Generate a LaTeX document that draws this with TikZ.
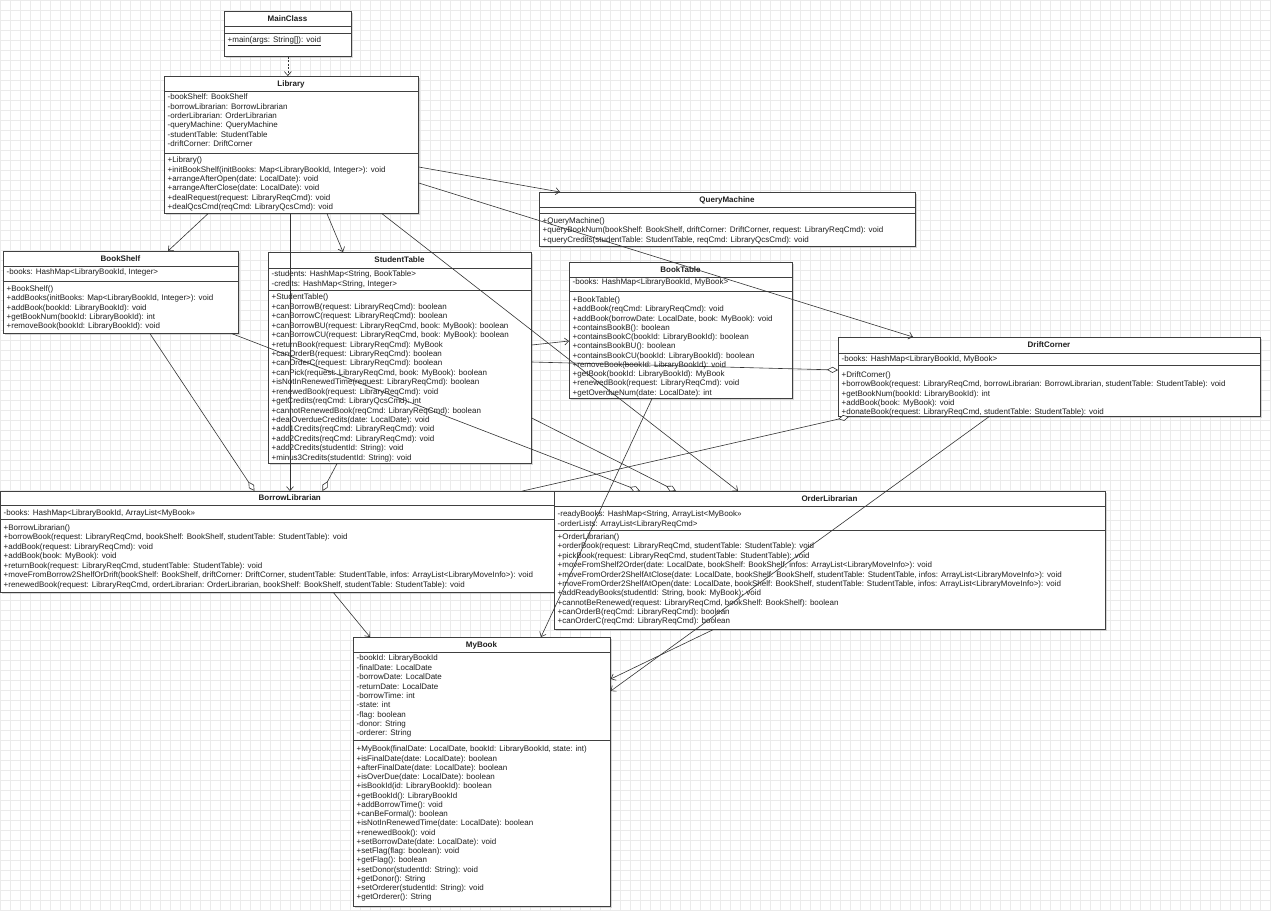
\documentclass[tikz,border=0pt]{standalone}
\usepackage{fontspec}
\setmainfont{Liberation Sans}
\usetikzlibrary{arrows.meta,calc,shadows}
\tikzset{
  cls/.style={draw=black!75, line width=0.7pt, fill=white, inner sep=0pt, anchor=north west,
    drop shadow={shadow xshift=1.5pt, shadow yshift=-1.5pt, fill=black!30, opacity=0.5}},
  sepline/.style={draw=black!75, line width=0.7pt},
  member/.style={anchor=base west, inner sep=0pt, font=\fontsize{8}{9.4}\selectfont, text=black!88},
  clstitle/.style={anchor=base, inner sep=0pt, font=\fontsize{8}{9.4}\selectfont\bfseries, text=black!88},
  gridline/.style={draw=black!8, line width=0.4pt},
  assoc/.style={draw=black!80, line width=0.6pt, -{Straight Barb[length=4pt,width=7pt,line width=0.6pt]}},
  aggr/.style={draw=black!80, line width=0.6pt, -{Diamond[length=11pt,width=6pt,fill=white,line width=0.6pt]}},
  dep/.style={assoc, dash pattern=on 2pt off 1.5pt}
}
\newcommand\umlclass[8]{%
  \node[cls, minimum width={(#4-#2)*1pt}, minimum height={(#5-#3)*1pt}] (#1) at (#2,#3) {};
  \draw[sepline] (#2,#7) -- (#4,#7);
  \draw[sepline] (#2,#8) -- (#4,#8);
  \node[clstitle] (#1-t) at ({(#2+#4)/2},{(#3+#7)/2+2.9}) {#6};
}
\newcommand\members[5][9.4]{%
  \foreach \mtxt [count=\mi] in {#5} {
    \node[member] (#2\mi) at (#3, {#4+(\mi-1)*#1}) {\mtxt};
  }}
\begin{document}
\begin{tikzpicture}[x=1pt,y=-1pt]
\useasboundingbox (0,0) rectangle (1271,910);
\fill[white] (0,0) rectangle (1271,910);
\foreach \gx in {0,10,...,1270} \draw[gridline] (\gx,0) -- (\gx,910);
\foreach \gy in {0,10,...,910} \draw[gridline] (0,\gy) -- (1271,\gy);

% MainClass
\umlclass{main}{224}{11}{351}{56}{MainClass}{26}{33}
\node[member] (mainM1) at (227.5,42.2) {\underline{+main(args: String[]): void}};

% Library
\umlclass{lib}{164}{76}{418}{213}{Library}{91}{153}
\members[9.4]{libA}{167.5}{99.6}{-bookShelf: BookShelf, -borrowLibrarian: BorrowLibrarian, -orderLibrarian: OrderLibrarian, -queryMachine: QueryMachine, -studentTable: StudentTable, -driftCorner: DriftCorner}
\members[9.35]{libM}{167.5}{162.9}{+Library(), {+initBookShelf(initBooks: Map<LibraryBookId, Integer>): void}, +arrangeAfterOpen(date: LocalDate): void, +arrangeAfterClose(date: LocalDate): void, +dealRequest(request: LibraryReqCmd): void, +dealQcsCmd(reqCmd: LibraryQcsCmd): void}

% QueryMachine
\umlclass{qm}{539}{192}{915}{246}{QueryMachine}{207}{213}
\members[9.2]{qmM}{542.5}{223.6}{+QueryMachine(), {+queryBookNum(bookShelf: BookShelf, driftCorner: DriftCorner, request: LibraryReqCmd): void}, {+queryCredits(studentTable: StudentTable, reqCmd: LibraryQcsCmd): void}}

% BookShelf
\umlclass{bs}{3}{251}{238}{333}{BookShelf}{266}{281}
\members{bsA}{6.5}{274.9}{{-books: HashMap<LibraryBookId, Integer>}}
\members[9.25]{bsM}{6.5}{291.6}{+BookShelf(), {+addBooks(initBooks: Map<LibraryBookId, Integer>): void}, +addBook(bookId: LibraryBookId): void, +getBookNum(bookId: LibraryBookId): int, +removeBook(bookId: LibraryBookId): void}

% StudentTable
\umlclass{st}{268}{252}{531}{463}{StudentTable}{268}{290}
\members[10]{stA}{271.5}{276.6}{{-students: HashMap<String, BookTable>}, {-credits: HashMap<String, Integer>}}
\members[9.43]{stM}{271.5}{299.9}{+StudentTable(), +canBorrowB(request: LibraryReqCmd): boolean, +canBorrowC(request: LibraryReqCmd): boolean, {+canBorrowBU(request: LibraryReqCmd, book: MyBook): boolean}, {+canBorrowCU(request: LibraryReqCmd, book: MyBook): boolean}, +returnBook(request: LibraryReqCmd): MyBook, +canOrderB(request: LibraryReqCmd): boolean, +canOrderC(request: LibraryReqCmd): boolean, {+canPick(request: LibraryReqCmd, book: MyBook): boolean}, +isNotInRenewedTime(request: LibraryReqCmd): boolean, +renewedBook(request: LibraryReqCmd): void, +getCredits(reqCmd: LibraryQcsCmd): int, +cannotRenewedBook(reqCmd: LibraryReqCmd): boolean, +dealOverdueCredits(date: LocalDate): void, +add1Credits(reqCmd: LibraryReqCmd): void, +add2Credits(reqCmd: LibraryReqCmd): void, +add2Credits(studentId: String): void, +minus3Credits(studentId: String): void}

% BookTable
\umlclass{bt}{569}{262}{792}{398}{BookTable}{277}{291}
\members{btA}{572.5}{284.9}{{-books: HashMap<LibraryBookId, MyBook>}}
\members[9.25]{btM}{572.5}{302.6}{+BookTable(), +addBook(reqCmd: LibraryReqCmd): void, {+addBook(borrowDate: LocalDate, book: MyBook): void}, +containsBookB(): boolean, +containsBookC(bookId: LibraryBookId): boolean, +containsBookBU(): boolean, +containsBookCU(bookId: LibraryBookId): boolean, +removeBook(bookId: LibraryBookId): void, +getBook(bookId: LibraryBookId): MyBook, +renewedBook(request: LibraryReqCmd): void, +getOverdueNum(date: LocalDate): int}

% DriftCorner
\umlclass{dc}{838}{337}{1260}{416}{DriftCorner}{353}{365}
\members{dcA}{841.5}{361.6}{{-books: HashMap<LibraryBookId, MyBook>}}
\members[9.2]{dcM}{841.5}{377.6}{+DriftCorner(), {+borrowBook(request: LibraryReqCmd, borrowLibrarian: BorrowLibrarian, studentTable: StudentTable): void}, +getBookNum(bookId: LibraryBookId): int, +addBook(book: MyBook): void, {+donateBook(request: LibraryReqCmd, studentTable: StudentTable): void}}

% BorrowLibrarian
\umlclass{bl}{0.5}{491}{579}{592}{BorrowLibrarian}{505}{519}
\members{blA}{3.5}{515.9}{{-books: HashMap<LibraryBookId, ArrayList<MyBook>>}}
\members[9.45]{blM}{3.5}{530.5}{+BorrowLibrarian(), {+borrowBook(request: LibraryReqCmd, bookShelf: BookShelf, studentTable: StudentTable): void}, +addBook(request: LibraryReqCmd): void, +addBook(book: MyBook): void, {+returnBook(request: LibraryReqCmd, studentTable: StudentTable): void}, {+moveFromBorrow2ShelfOrDrift(bookShelf: BookShelf, driftCorner: DriftCorner, studentTable: StudentTable, infos: ArrayList<LibraryMoveInfo>): void}, {+renewedBook(request: LibraryReqCmd, orderLibrarian: OrderLibrarian, bookShelf: BookShelf, studentTable: StudentTable): void}}

% OrderLibrarian
\umlclass{ol}{554}{491}{1105}{629}{OrderLibrarian}{506}{530}
\members[10]{olA}{557.5}{516.2}{{-readyBooks: HashMap<String, ArrayList<MyBook>>}, -orderLists: ArrayList<LibraryReqCmd>}
\members[9.37]{olM}{557.5}{539.6}{+OrderLibrarian(), {+orderBook(request: LibraryReqCmd, studentTable: StudentTable): void}, {+pickBook(request: LibraryReqCmd, studentTable: StudentTable): void}, {+moveFromShelf2Order(date: LocalDate, bookShelf: BookShelf, infos: ArrayList<LibraryMoveInfo>): void}, {+moveFromOrder2ShelfAtClose(date: LocalDate, bookShelf: BookShelf, studentTable: StudentTable, infos: ArrayList<LibraryMoveInfo>): void}, {+moveFromOrder2ShelfAtOpen(date: LocalDate, bookShelf: BookShelf, studentTable: StudentTable, infos: ArrayList<LibraryMoveInfo>): void}, {+addReadyBooks(studentId: String, book: MyBook): void}, {+cannotBeRenewed(request: LibraryReqCmd, bookShelf: BookShelf): boolean}, +canOrderB(reqCmd: LibraryReqCmd): boolean, +canOrderC(reqCmd: LibraryReqCmd): boolean}

% MyBook
\umlclass{mb}{353}{637}{610}{906}{MyBook}{652}{740}
\members[9.375]{mbA}{356.5}{660.9}{-bookId: LibraryBookId, -finalDate: LocalDate, -borrowDate: LocalDate, -returnDate: LocalDate, -borrowTime: int, -state: int, -flag: boolean, -donor: String, -orderer: String}
\members[9.25]{mbM}{356.5}{751.9}{{+MyBook(finalDate: LocalDate, bookId: LibraryBookId, state: int)}, +isFinalDate(date: LocalDate): boolean, +afterFinalDate(date: LocalDate): boolean, +isOverDue(date: LocalDate): boolean, +isBookId(id: LibraryBookId): boolean, +getBookId(): LibraryBookId, +addBorrowTime(): void, +canBeFormal(): boolean, +isNotInRenewedTime(date: LocalDate): boolean, +renewedBook(): void, +setBorrowDate(date: LocalDate): void, +setFlag(flag: boolean): void, +getFlag(): boolean, +setDonor(studentId: String): void, +getDonor(): String, +setOrderer(studentId: String): void, +getOrderer(): String}

% connectors
\draw[dep] (main.south) -- (main.south |- lib.north);
\draw[assoc] ([xshift=44pt]lib.south west) -- ([xshift=165pt]bs.north west);
\draw[assoc] ([xshift=126pt]lib.south west) -- ([xshift=289.5pt]bl.north west);
\draw[assoc] ([xshift=163pt]lib.south west) -- ([xshift=75pt]st.north west);
\draw[assoc] ([xshift=218pt]lib.south west) -- ([xshift=184pt]ol.north west);
\draw[assoc] ([yshift=-91pt]lib.north east) -- ([xshift=21pt]qm.north west);
\draw[assoc] ([yshift=-107pt]lib.north east) -- ([xshift=75pt]dc.north west);
\draw[assoc] ([yshift=-93pt]st.north east) -- ([yshift=-79pt]bt.north west);
\draw[aggr] ([yshift=-110pt]st.north east) -- ([yshift=-33pt]dc.north west);
\draw[aggr] ([xshift=147pt]bs.south west) -- ([xshift=254pt]bl.north west);
\draw[aggr] ([xshift=229pt]bs.south west) -- ([xshift=86pt]ol.north west);
\draw[aggr] ([xshift=69pt]st.south west) -- ([xshift=322pt]bl.north west);
\draw[aggr] ([yshift=-166pt]st.north east) -- ([xshift=122pt]ol.north west);
\draw[aggr] ([xshift=522pt]bl.north west) -- ([xshift=11pt]dc.south west);
\draw[assoc] ([xshift=83pt]bt.south west) -- ([xshift=188pt]mb.north west);
\draw[assoc] ([xshift=159pt]ol.south west) -- ([yshift=-42pt]mb.north east);
\draw[assoc] ([xshift=151pt]dc.south west) -- ([yshift=-54pt]mb.north east);
\draw[assoc] ([xshift=333pt]bl.south west) -- ([xshift=17pt]mb.north west);
\end{tikzpicture}
\end{document}
